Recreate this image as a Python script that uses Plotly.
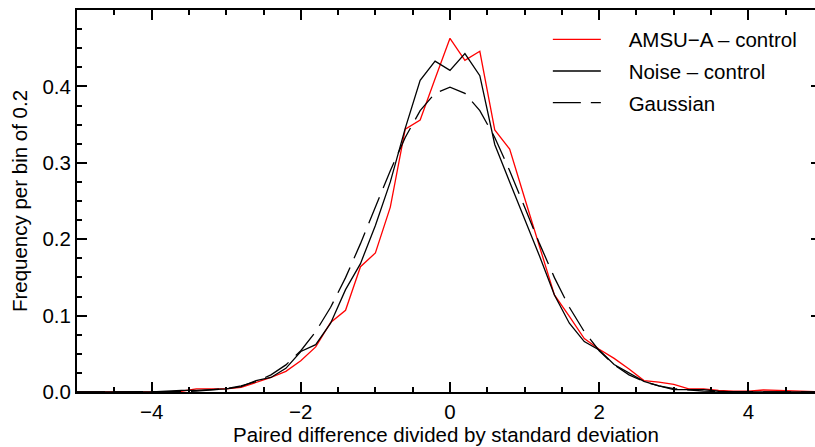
import plotly.graph_objects as go

x_bins = [round(-5.0 + 0.2 * i, 1) for i in range(51)]

amsu_control = [
    0, 0, 0, 0, 0, 0, 0, 0.001, 0.004, 0.004,
    0.004, 0.006, 0.012, 0.019, 0.027, 0.041, 0.059, 0.091, 0.107, 0.164,
    0.182, 0.242, 0.344, 0.356, 0.410, 0.463, 0.434, 0.446, 0.343, 0.318,
    0.254, 0.189, 0.127, 0.099, 0.070, 0.056, 0.044, 0.030, 0.015, 0.013,
    0.010, 0.004, 0.004, 0.002, 0.001, 0.001, 0.0026, 0.002, 0.001, 0, 0,
]

noise_control = [
    0, 0, 0, 0, 0, 0, 0.001, 0.002, 0.002, 0.003,
    0.004, 0.007, 0.015, 0.019, 0.031, 0.053, 0.062, 0.090, 0.134, 0.168,
    0.218, 0.275, 0.345, 0.408, 0.433, 0.421, 0.443, 0.414, 0.324, 0.275,
    0.227, 0.178, 0.127, 0.090, 0.066, 0.055, 0.036, 0.025, 0.014, 0.008,
    0.003, 0.003, 0.003, 0.001, 0, 0, 0, 0, 0, 0, 0,
]

gaussian = [
    0, 0, 0, 0, 0, 0.0001, 0.0003, 0.0006, 0.0012, 0.0024,
    0.0044, 0.0079, 0.0136, 0.0224, 0.0355, 0.0540, 0.0790, 0.1109, 0.1497, 0.1942,
    0.2420, 0.2897, 0.3332, 0.3683, 0.3910, 0.3989, 0.3910, 0.3683, 0.3332, 0.2897,
    0.2420, 0.1942, 0.1497, 0.1109, 0.0790, 0.0540, 0.0355, 0.0224, 0.0136, 0.0079,
    0.0044, 0.0024, 0.0012, 0.0006, 0.0003, 0.0001, 0, 0, 0, 0, 0,
]

x_ticks = [-4, -2, 0, 2, 4]
y_ticks = [0.0, 0.1, 0.2, 0.3, 0.4, 0.5]

FONT = "Liberation Sans, Arial, Helvetica, sans-serif"
FS = 20.5
PAD = "\u00a0" * 4

fig = go.Figure()
fig.add_trace(go.Scatter(x=x_bins, y=amsu_control, mode="lines", name=PAD + "AMSU\u2212A \u2013 control",
                         line=dict(color="#ff0000", width=1.3), legendgroup="a"))
fig.add_trace(go.Scatter(x=x_bins, y=noise_control, mode="lines", name=PAD + "Noise \u2013 control",
                         line=dict(color="#000000", width=1.3), legendgroup="b"))
fig.add_trace(go.Scatter(x=x_bins, y=gaussian, mode="lines", name=PAD + "Gaussian",
                         line=dict(color="#000000", width=1.3, dash="28px,10px"), legendgroup="c"))
# empty trace bound to the mirror axes so they are drawn
fig.add_trace(go.Scatter(x=[], y=[], xaxis="x2", yaxis="y2", showlegend=False, hoverinfo="skip"))

tick_font = dict(family=FONT, size=FS, color="black")

fig.update_layout(
    xaxis=dict(
        range=[-5, 4.893], tickvals=x_ticks, automargin=False,
        showgrid=False, zeroline=False, showline=True, linecolor="black", linewidth=2,
        ticks="inside", ticklen=10, tickwidth=2, tickcolor="black", tickfont=tick_font,
        minor=dict(dtick=0.5, ticks="inside", ticklen=5, tickwidth=2, tickcolor="black"),
        title=dict(text="Paired difference divided by standard deviation",
                   font=dict(family=FONT, size=FS, color="black"), standoff=3),
    ),
    yaxis=dict(
        range=[0, 0.5], tickvals=y_ticks, tickformat=".1f", automargin=False,
        showgrid=False, zeroline=False, showline=True, linecolor="black", linewidth=2,
        ticks="inside", ticklen=10, tickwidth=2, tickcolor="black", tickfont=tick_font,
        minor=dict(dtick=0.025, ticks="inside", ticklen=5, tickwidth=2, tickcolor="black"),
        title=dict(text="Frequency per bin of 0.2",
                   font=dict(family=FONT, size=FS, color="black"), standoff=9),
    ),
    xaxis2=dict(
        overlaying="x", matches="x", side="top", automargin=False,
        showgrid=False, zeroline=False, showline=True, linecolor="black", linewidth=2,
        ticks="inside", ticklen=10, tickwidth=2, tickcolor="black", tickvals=x_ticks,
        showticklabels=False,
        minor=dict(dtick=0.5, ticks="inside", ticklen=5, tickwidth=2, tickcolor="black"),
    ),
    yaxis2=dict(
        overlaying="y", matches="y", side="right", automargin=False,
        showgrid=False, zeroline=False, showline=False,
        ticks="inside", ticklen=4, tickwidth=2, tickcolor="black", tickvals=y_ticks,
        showticklabels=False,
    ),
    width=815, height=447,
    margin=dict(l=77, r=0, t=10, b=55, autoexpand=False),
    paper_bgcolor="white", plot_bgcolor="white",
    font=dict(family=FONT, size=FS, color="black"),
    hovermode=False,
    showlegend=True,
    legend=dict(x=0.638, y=0.975, xanchor="left", yanchor="top",
                bgcolor="rgba(0,0,0,0)", borderwidth=0,
                font=dict(family=FONT, size=FS, color="black"),
                itemwidth=48, tracegroupgap=2),
)

fig.write_html(
    "out.html",
    config={"displayModeBar": False},
    post_script=(
        "document.documentElement.style.margin='0';"
        "document.documentElement.style.overflow='hidden';"
        "document.body.style.margin='0';"
        "document.body.style.overflow='hidden';"
    ),
)
